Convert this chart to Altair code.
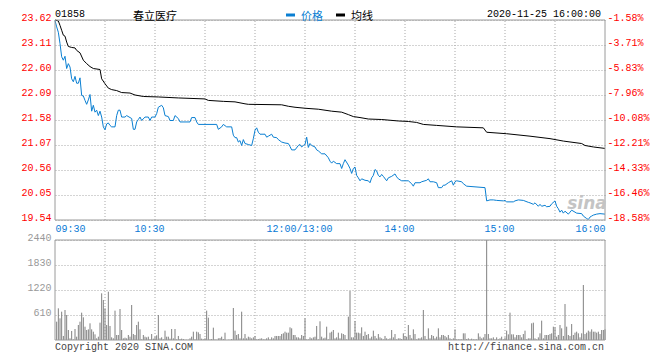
import altair as alt
import pandas as pd

STOCK_CODE = "01858"
STOCK_NAME = "春立医疗"
TIMESTAMP = "2020-11-25 16:00:00"
LEG_PRICE = "价格"
LEG_AVG = "均线"
FOOT_L = "Copyright 2020 SINA.COM"
FOOT_R = "http://finance.sina.com.cn"
PREV_CLOSE = 24.00
PRICE_LO, PRICE_HI = 19.54, 23.62
VOL_MAX = 2440
N_MIN = 330

price_ticks = [19.54, 20.05, 20.56, 21.07, 21.58, 22.09, 22.60, 23.11, 23.62]
vol_ticks = [610, 1220, 1830, 2440]
time_tick_min = [0, 60, 150, 210, 270, 330]
time_tick_lab = ["09:30", "10:30", "12:00/13:00", "14:00", "15:00", "16:00"]
grid_min = [30, 60, 90, 120, 150, 180, 210, 240, 270, 300]

price_min = [0, 1, 2, 3, 4, 5, 6, 7, 8, 9, 10, 11, 12, 13, 14, 15, 16, 17, 18, 19,
             20, 21, 22, 23, 24, 25, 26, 27, 28, 29, 30, 31, 32, 33, 34, 36, 37, 38, 39, 40,
             42, 43, 45, 46, 47, 48, 49, 50, 51, 52, 54, 56, 57, 58, 60, 61, 62, 64, 65, 66,
             68, 69, 71, 72, 74, 75, 81, 82, 84, 85, 86, 97, 98, 100, 101, 103, 106, 107, 108, 109,
             110, 111, 112, 113, 114, 116, 118, 119, 120, 121, 122, 123, 126, 127, 128, 130, 131, 133, 134, 136,
             138, 140, 141, 142, 144, 146, 147, 148, 149, 150, 151, 152, 153, 154, 156, 157, 158, 160, 162, 164,
             165, 166, 167, 169, 171, 172, 173, 174, 176, 177, 178, 179, 180, 181, 182, 183, 184, 186, 188, 189,
             190, 191, 192, 193, 194, 195, 196, 197, 199, 200, 202, 204, 205, 206, 208, 212, 214, 215, 216, 219,
             220, 223, 224, 225, 227, 229, 230, 232, 233, 234, 236, 237, 238, 239, 240, 241, 244, 245, 247, 258,
             259, 261, 263, 265, 269, 270, 271, 275, 276, 278, 281, 284, 285, 287, 288, 290, 291, 292, 294, 295,
             297, 298, 300, 301, 302, 303, 304, 305, 306, 308, 309, 310, 313, 316, 317, 319, 320, 321, 322, 323,
             325, 327, 330]
price_val = [23.61, 23.48, 23.37, 23.14, 22.87, 22.80, 22.88, 22.63, 22.73, 22.66, 22.42, 22.36, 22.47, 22.33, 22.33, 22.44, 22.08, 22.07, 21.98, 21.90,
             21.99, 22.10, 21.76, 21.88, 21.74, 21.78, 21.67, 21.76, 21.64, 21.44, 21.38, 21.50, 21.52, 21.47, 21.44, 21.44, 21.67, 21.78, 21.78, 21.64,
             21.64, 21.67, 21.63, 21.61, 21.39, 21.39, 21.54, 21.59, 21.64, 21.57, 21.64, 21.64, 21.57, 21.64, 21.64, 21.71, 21.84, 21.88, 21.83, 21.67,
             21.65, 21.57, 21.57, 21.67, 21.61, 21.54, 21.54, 21.63, 21.63, 21.54, 21.49, 21.49, 21.39, 21.44, 21.49, 21.44, 21.44, 21.27, 21.22, 21.22,
             21.13, 21.16, 21.06, 21.18, 21.10, 21.08, 21.06, 21.20, 21.37, 21.42, 21.33, 21.29, 21.29, 21.23, 21.25, 21.29, 21.23, 21.22, 21.18, 21.13,
             21.11, 21.10, 21.04, 20.97, 20.97, 21.06, 21.08, 21.03, 21.06, 21.08, 21.23, 21.02, 21.10, 21.06, 21.03, 20.97, 20.95, 20.89, 20.89, 20.81,
             20.74, 20.70, 20.74, 20.69, 20.69, 20.59, 20.69, 20.77, 20.66, 20.59, 20.49, 20.59, 20.62, 20.45, 20.40, 20.34, 20.38, 20.35, 20.34, 20.30,
             20.40, 20.45, 20.57, 20.54, 20.45, 20.42, 20.47, 20.43, 20.34, 20.40, 20.43, 20.48, 20.42, 20.38, 20.34, 20.34, 20.28, 20.23, 20.30, 20.30,
             20.32, 20.35, 20.38, 20.32, 20.32, 20.30, 20.20, 20.20, 20.25, 20.25, 20.30, 20.32, 20.34, 20.25, 20.32, 20.34, 20.32, 20.28, 20.23, 20.20,
             19.93, 19.95, 19.95, 19.94, 19.93, 19.94, 19.91, 19.91, 19.93, 19.95, 19.94, 19.90, 19.89, 19.86, 19.89, 19.82, 19.86, 19.82, 19.84, 19.81,
             19.82, 19.87, 19.93, 19.82, 19.77, 19.70, 19.74, 19.68, 19.72, 19.66, 19.70, 19.74, 19.68, 19.67, 19.62, 19.57, 19.55, 19.60, 19.62, 19.64,
             19.66, 19.67, 19.66]

avg_min = [0, 2, 3, 4, 5, 6, 7, 8, 10, 12, 13, 15, 17, 19, 21, 23, 27, 28, 30, 32,
           34, 37, 40, 45, 48, 53, 62, 74, 90, 92, 101, 108, 114, 116, 136, 140, 144, 150, 158, 166,
           172, 176, 179, 183, 188, 196, 206, 212, 217, 221, 229, 241, 257, 259, 271, 285, 297, 305, 316, 318,
           323, 330]
avg_val = [23.62, 23.60, 23.51, 23.41, 23.31, 23.29, 23.17, 23.08, 23.06, 23.05, 23.00, 22.95, 22.80, 22.73, 22.67, 22.63, 22.61, 22.42, 22.32, 22.23,
           22.20, 22.18, 22.14, 22.13, 22.09, 22.06, 22.05, 22.03, 22.01, 21.98, 21.96, 21.95, 21.91, 21.90, 21.89, 21.86, 21.84, 21.82, 21.80, 21.76,
           21.74, 21.69, 21.65, 21.63, 21.60, 21.59, 21.56, 21.55, 21.53, 21.49, 21.47, 21.44, 21.42, 21.33, 21.30, 21.25, 21.20, 21.15, 21.10, 21.06,
           21.03, 21.00]

volume = [0, 447, 773, 529, 691, 98, 732, 610, 244, 41,
          220, 16, 268, 81, 366, 447, 667, 553, 325, 244,
          260, 407, 260, 203, 138, 41, 81, 423, 1139, 976,
          773, 366, 1179, 342, 65, 41, 716, 122, 122, 756,
          244, 41, 57, 41, 122, 81, 854, 146, 122, 366,
          447, 260, 16, 122, 81, 65, 81, 16, 146, 33,
          81, 114, 610, 41, 65, 16, 228, 81, 81, 33,
          268, 41, 268, 16, 98, 24, 33, 24, 8, 8,
          8, 41, 81, 203, 16, 203, 187, 146, 33, 16,
          41, 716, 545, 16, 24, 301, 16, 8, 41, 49,
          81, 24, 179, 0, 8, 8, 24, 781, 228, 122,
          146, 41, 691, 41, 146, 41, 81, 65, 41, 65,
          98, 16, 24, 33, 41, 16, 16, 41, 65, 16,
          65, 41, 98, 98, 98, 98, 146, 163, 203, 179,
          179, 309, 285, 122, 122, 65, 65, 41, 122, 98,
          529, 16, 16, 65, 41, 65, 81, 342, 16, 456,
          81, 41, 57, 325, 16, 179, 203, 244, 41, 65,
          179, 41, 163, 146, 122, 16, 569, 1196, 65, 65,
          464, 179, 179, 163, 309, 98, 203, 122, 146, 41,
          81, 228, 98, 41, 146, 65, 41, 16, 98, 41,
          16, 41, 244, 65, 146, 16, 41, 41, 24, 163,
          98, 81, 366, 122, 41, 260, 146, 16, 41, 41,
          65, 732, 98, 16, 285, 41, 122, 98, 41, 81,
          285, 65, 122, 122, 98, 65, 122, 41, 16, 41,
          260, 16, 16, 16, 16, 163, 163, 24, 41, 16,
          33, 16, 16, 16, 163, 81, 41, 65, 146, 2440,
          146, 41, 41, 65, 16, 65, 16, 41, 81, 16,
          65, 228, 138, 667, 138, 138, 65, 122, 122, 122,
          65, 146, 228, 16, 41, 41, 407, 423, 41, 16,
          65, 163, 472, 41, 122, 122, 122, 146, 163, 325,
          309, 81, 122, 366, 285, 98, 878, 325, 122, 98,
          390, 122, 179, 203, 163, 65, 163, 1342, 146, 179,
          228, 203, 260, 203, 203, 179, 203, 146, 244, 244,
          260]

# ---- styling ----
MONO = "Liberation Mono"
CJK = "Noto Sans CJK SC"
RED = "#ff0000"
BLUE = "#0a7fd2"
BLUE_TXT = "#0a7ad6"
GRID = "#a8a8a8"
BORDER = "#9a9a9a"
VOLC = "#808080"
VOLTXT = "#999999"

price_df = pd.DataFrame({"minute": price_min, "price": price_val})
avg_df = pd.DataFrame({"minute": avg_min, "avg": avg_val})
vol_df = pd.DataFrame({"minute": list(range(len(volume))), "volume": volume})
vol_df["base"] = 0
vgrid_p = pd.DataFrame({"minute": grid_min, "lo": PRICE_LO, "hi": PRICE_HI})
vgrid_v = pd.DataFrame({"minute": grid_min, "lo": 0, "hi": VOL_MAX})
border_p = pd.DataFrame({"x0": [0], "x1": [N_MIN], "lo": [PRICE_LO], "hi": [PRICE_HI]})
border_v = pd.DataFrame({"x0": [0], "x1": [N_MIN], "lo": [0], "hi": [VOL_MAX]})

xscale = alt.Scale(domain=[0, N_MIN], nice=False, zero=False)
time_expr = " : ".join(f"datum.value == {m} ? '{l}'" for m, l in zip(time_tick_min, time_tick_lab)) + " : ''"
xaxis = alt.Axis(values=time_tick_min, labelExpr=time_expr, orient="bottom", offset=-120,
                 domain=False, ticks=False, grid=False, labelColor=BLUE_TXT, labelFont=MONO,
                 labelFontSize=10, labelPadding=3, labelBaseline="top", labelFlush=True,
                 labelOverlap=False,
                 labelOffset=alt.condition(f"datum.value > 0 && datum.value < {N_MIN}", alt.value(-6), alt.value(0)),
                 title=None)

pscale = alt.Scale(domain=[PRICE_LO, PRICE_HI], range=[200, 0], nice=False, zero=False)
vscale = alt.Scale(domain=[0, VOL_MAX], range=[320, 220], nice=False, zero=False)

X = lambda f: alt.X(f, scale=xscale, axis=xaxis)

# price panel
pg = alt.Chart(vgrid_p).mark_rule(color=GRID, strokeDash=[1, 2], strokeWidth=1).encode(
    x=X("minute:Q"), y=alt.Y("lo:Q", scale=pscale, axis=None), y2="hi:Q")
pb = alt.Chart(border_p).mark_rect(fillOpacity=0, stroke=BORDER, strokeWidth=1).encode(
    x=X("x0:Q"), x2="x1:Q", y=alt.Y("lo:Q", scale=pscale, axis=None), y2="hi:Q")
blue = alt.Chart(price_df).mark_line(color=BLUE, strokeWidth=1).encode(
    x=X("minute:Q"),
    y=alt.Y("price:Q", scale=pscale,
            axis=alt.Axis(orient="left", values=price_ticks, format=".2f", labelColor=RED,
                          labelFont=MONO, labelFontSize=10, labelPadding=4, labelBaseline="alphabetic",
                          ticks=False, domain=False, grid=True, gridColor=GRID, gridDash=[1, 2],
                          labelOverlap=False, title=None)))
pct_expr = f"'-' + format(abs(datum.value / {PREV_CLOSE} - 1) * 100, '.2f') + '%'"
avg = alt.Chart(avg_df).mark_line(color="#000000", strokeWidth=1).encode(
    x=X("minute:Q"),
    y=alt.Y("avg:Q", scale=pscale,
            axis=alt.Axis(orient="right", values=price_ticks, labelExpr=pct_expr, labelColor=RED,
                          labelFont=MONO, labelFontSize=10, labelPadding=2, labelBaseline="alphabetic",
                          ticks=False, domain=False, grid=False, labelOverlap=False, title=None)))
price_layer = alt.layer(pg, blue, avg, pb).resolve_axis(y="independent")

# volume panel
vg = alt.Chart(vgrid_v).mark_rule(color=GRID, strokeDash=[1, 2], strokeWidth=1).encode(
    x=X("minute:Q"), y=alt.Y("lo:Q", scale=vscale, axis=None), y2="hi:Q")
bars = alt.Chart(vol_df).mark_rule(color=VOLC, strokeWidth=1).encode(
    x=X("minute:Q"),
    y=alt.Y("volume:Q", scale=vscale,
            axis=alt.Axis(orient="left", values=vol_ticks, format="d", labelColor=VOLTXT, labelFont=MONO,
                          labelFontSize=10, labelPadding=4, labelBaseline="alphabetic",
                          ticks=False, domain=False, grid=True, gridColor=GRID, gridDash=[1, 2],
                          labelOverlap=False, title=None)),
    y2="base:Q")
vb = alt.Chart(border_v).mark_rect(fillOpacity=0, stroke=BORDER, strokeWidth=1).encode(
    x=X("x0:Q"), x2="x1:Q", y=alt.Y("lo:Q", scale=vscale, axis=None), y2="hi:Q")
vol_layer = alt.layer(vg, bars, vb).resolve_axis(y="independent")


def txt(s, x, y, align, color, font, size, **kw):
    return alt.Chart(pd.DataFrame({"t": [s]})).mark_text(
        align=align, baseline="middle", color=color, font=font, fontSize=size, **kw
    ).encode(x=alt.value(x), y=alt.value(y), text="t:N")


def dash(x1, x2, y, color):
    return alt.Chart(pd.DataFrame({"k": [0]})).mark_rule(color=color, strokeWidth=3).encode(
        x=alt.value(x1), x2=alt.value(x2), y=alt.value(y))


texts = [
    txt(STOCK_CODE, 0, -6, "left", "#000000", MONO, 10),
    txt(STOCK_NAME, 100, -3, "center", "#000000", CJK, 11),
    dash(231, 240, -5, BLUE),
    txt(LEG_PRICE, 246, -3, "left", BLUE, CJK, 11),
    dash(281, 290, -5, "#000000"),
    txt(LEG_AVG, 296, -3, "left", "#000000", CJK, 11),
    txt(TIMESTAMP, 546, -6, "right", "#000000", MONO, 10),
    txt(FOOT_L, 0, 327, "left", "#444444", MONO, 10),
    txt(FOOT_R, 549, 327, "right", "#444444", MONO, 10),
    txt("sina", 532, 184, "center", "#c4c4c4", "DejaVu Sans", 17, fontStyle="italic", fontWeight="bold"),
]

chart = alt.layer(price_layer, vol_layer, *texts).resolve_scale(y="independent").properties(
    width=550, height=320, autosize="none",
    padding={"left": 47, "top": 12, "right": 46, "bottom": 12},
    background="#ffffff",
).configure_view(stroke=None)

chart.save("out.html", embed_options={"renderer": "svg", "actions": False})
